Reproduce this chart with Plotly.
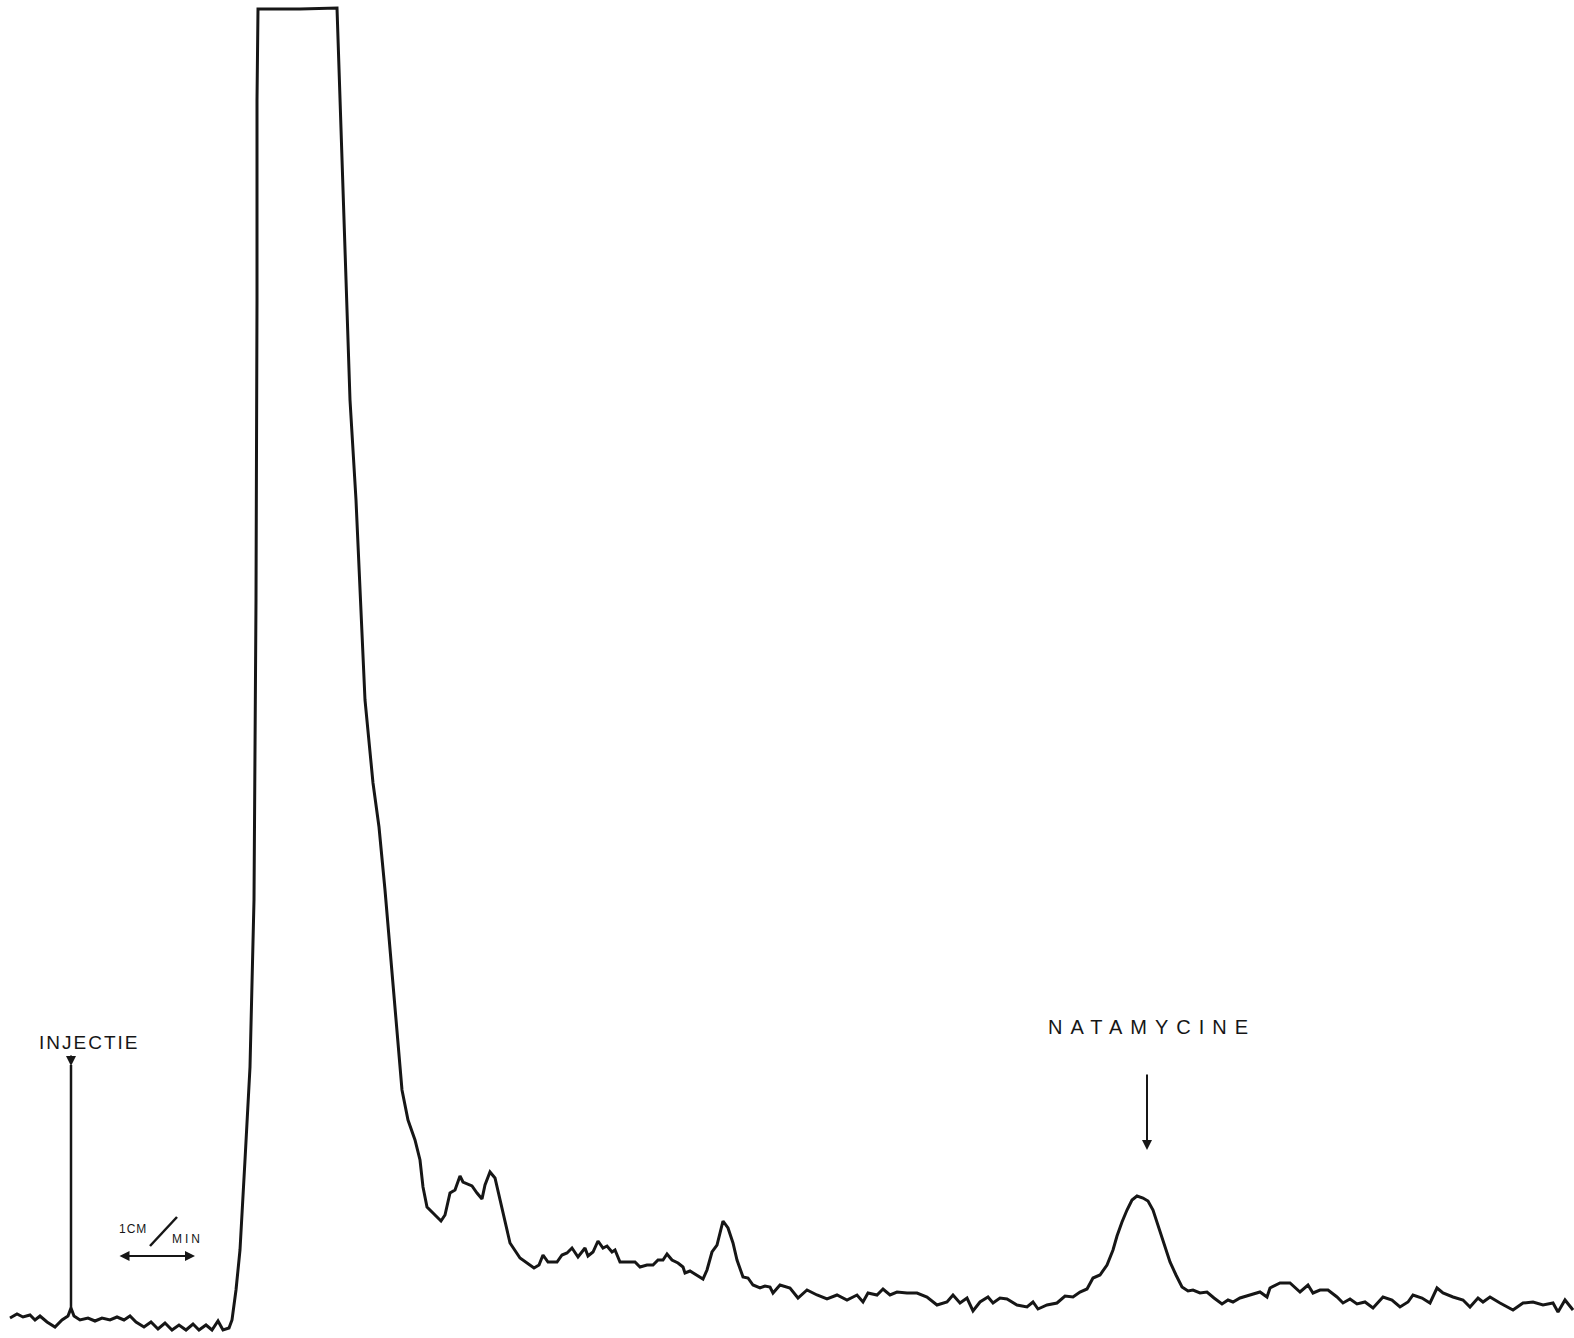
import plotly.graph_objects as go

# Chart paper coordinates: x = distance along the recorder chart (px units, 77 units = 1 min),
# response = pen deflection above the bottom of the paper (px units)

# Baseline before the solvent front (incl. small injection spike)
pre_x = [10, 17, 23, 30, 35, 40, 47, 55, 62, 68, 71, 74, 80, 88, 95, 102, 110, 117, 124, 130,
         136, 144, 151, 158, 165, 172, 179, 186, 193, 199, 206, 212, 218, 223, 229, 232]
pre_y = [20, 24, 21, 23, 18, 22, 16, 11, 18, 22, 30, 22, 18, 20, 17, 20, 18, 21, 18, 22,
         16, 11, 16, 9, 15, 8, 13, 8, 14, 8, 13, 8, 17, 8, 10, 18]

# Off-scale solvent peak (rise and clipped top)
main_x = [236, 240, 245, 250, 254, 256, 257, 257, 258, 300, 337]
main_y = [48, 88, 178, 271, 438, 738, 1038, 1238, 1329, 1329, 1330]

# Tail of solvent peak with the double shoulder
front_x = [340, 345, 350, 356, 365, 373, 379, 385, 390, 396, 399, 402, 408, 415, 420, 423, 427,
           433, 441, 445, 450, 455, 460, 463, 472, 477, 482, 485, 490, 495, 500, 505, 510, 520]
front_y = [1238, 1088, 938, 838, 638, 555, 511, 448, 388, 318, 288, 248, 218, 198, 178, 151, 131,
           125, 117, 123, 145, 148, 162, 156, 152, 145, 139, 153, 166, 160, 138, 118, 95, 80]

# Hump and small peak
mid_x = [527, 534, 539, 543, 548, 557, 562, 567, 572, 578, 585, 588, 593, 598, 603, 607, 612, 615,
         620, 627, 635, 640, 647, 653, 658, 663, 667, 672, 678, 683, 685, 690, 697, 703, 707, 712,
         717, 723, 728, 733, 737]
mid_y = [75, 70, 73, 83, 76, 76, 83, 85, 90, 81, 90, 82, 86, 97, 90, 92, 86, 88,
         76, 76, 76, 71, 73, 73, 78, 78, 84, 78, 75, 71, 65, 67, 63, 59, 68, 86,
         93, 117, 110, 95, 78]

# Baseline between small peak and natamycine
base_x = [743, 748, 753, 760, 765, 770, 773, 780, 790, 798, 807, 817, 827, 837, 847, 857, 863, 868,
          877, 883, 890, 897, 907, 917, 927, 937, 947, 953, 960, 967, 973, 980, 988, 993, 1000, 1007,
          1017, 1027, 1033, 1038, 1047, 1057, 1065, 1073, 1080, 1087]
base_y = [61, 60, 53, 50, 52, 51, 45, 53, 50, 40, 48, 43, 39, 43, 38, 43, 36, 45,
          43, 49, 43, 46, 45, 45, 41, 33, 36, 43, 35, 40, 27, 36, 41, 35, 40, 39,
          33, 31, 36, 29, 33, 35, 42, 41, 46, 49]

# Natamycine peak
nat_x = [1093, 1100, 1107, 1113, 1117, 1122, 1127, 1132, 1137, 1143, 1148, 1153, 1157, 1160, 1165,
         1170, 1176, 1182, 1188, 1193, 1200, 1207, 1214, 1222, 1228, 1233, 1240]
nat_y = [60, 63, 73, 88, 102, 116, 128, 138, 142, 140, 137, 128, 116, 105, 90,
         76, 63, 51, 47, 48, 45, 46, 40, 34, 38, 36, 40]

# Baseline after natamycine
tail_x = [1250, 1260, 1267, 1270, 1280, 1290, 1300, 1308, 1313, 1320, 1328, 1337, 1343, 1350, 1357,
          1365, 1373, 1383, 1392, 1400, 1408, 1413, 1422, 1430, 1437, 1443, 1453, 1463, 1470, 1478,
          1483, 1490, 1500, 1513, 1523, 1533, 1543, 1553, 1558, 1565, 1573]
tail_y = [43, 46, 41, 50, 55, 55, 46, 53, 45, 48, 48, 41, 35, 39, 34,
          36, 30, 41, 38, 31, 36, 43, 40, 35, 50, 45, 41, 38, 31, 40,
          36, 41, 35, 28, 35, 36, 33, 35, 26, 38, 28]

# Marker positions
injection_x = 71
natamycine_x = 1147
scale_start, scale_end = 118, 195   # 1 cm = 1 min

x = pre_x + main_x + front_x + mid_x + base_x + nat_x + tail_x
y = pre_y + main_y + front_y + mid_y + base_y + nat_y + tail_y

INK = "#161616"
FONT = "Liberation Sans, DejaVu Sans, sans-serif"

fig = go.Figure()
fig.add_trace(go.Scatter(x=x, y=y, mode="lines",
                         line=dict(color=INK, width=3), hoverinfo="skip", showlegend=False))

# injection marker line
fig.add_trace(go.Scatter(x=[injection_x, injection_x], y=[30, 273], mode="lines",
                         line=dict(color=INK, width=2.5), hoverinfo="skip", showlegend=False))

annotations = [
    # injection small arrow
    dict(x=injection_x, y=272, ax=injection_x, ay=284, xref="x", yref="y", axref="x", ayref="y",
         showarrow=True, arrowhead=2, arrowsize=1, arrowwidth=2, arrowcolor=INK, text=""),
    dict(x=89, y=296, xref="x", yref="y", showarrow=False,
         text='<span style="letter-spacing:2px">INJECTIE</span>',
         font=dict(family=FONT, size=19, color=INK)),
    # natamycine arrow
    dict(x=natamycine_x, y=188, ax=natamycine_x, ay=265, xref="x", yref="y", axref="x", ayref="y",
         showarrow=True, arrowhead=2, arrowsize=1, arrowwidth=2, arrowcolor=INK, text=""),
    dict(x=1152, y=311, xref="x", yref="y", showarrow=False,
         text='<span style="letter-spacing:8px">NATAMYCINE</span>',
         font=dict(family=FONT, size=20, color=INK)),
    # scale bar 1 cm / min
    dict(x=scale_end, y=82, ax=scale_start, ay=82, xref="x", yref="y", axref="x", ayref="y",
         showarrow=True, arrowhead=2, startarrowhead=2, arrowside="end+start",
         arrowsize=1, startarrowsize=1, arrowwidth=2, arrowcolor=INK, text=""),
    dict(x=133, y=109, xref="x", yref="y", showarrow=False,
         text='<span style="letter-spacing:1px">1CM</span>',
         font=dict(family=FONT, size=12, color=INK)),
    dict(x=187, y=99, xref="x", yref="y", showarrow=False,
         text='<span style="letter-spacing:3px">MIN</span>',
         font=dict(family=FONT, size=12, color=INK)),
]

shapes = [
    dict(type="line", x0=150, y0=92, x1=177, y1=121, xref="x", yref="y",
         line=dict(color=INK, width=2.5)),
]

fig.update_layout(
    width=1574, height=1338,
    margin=dict(l=0, r=0, t=0, b=0),
    paper_bgcolor="white", plot_bgcolor="white",
    xaxis=dict(range=[0, 1574], visible=False, fixedrange=True),
    yaxis=dict(range=[0, 1338], visible=False, fixedrange=True),
    annotations=annotations, shapes=shapes,
    showlegend=False,
)

fig.write_html("out.html",
               config={"displayModeBar": False},
               post_script="document.body.style.margin='0';document.body.style.overflow='hidden';")
